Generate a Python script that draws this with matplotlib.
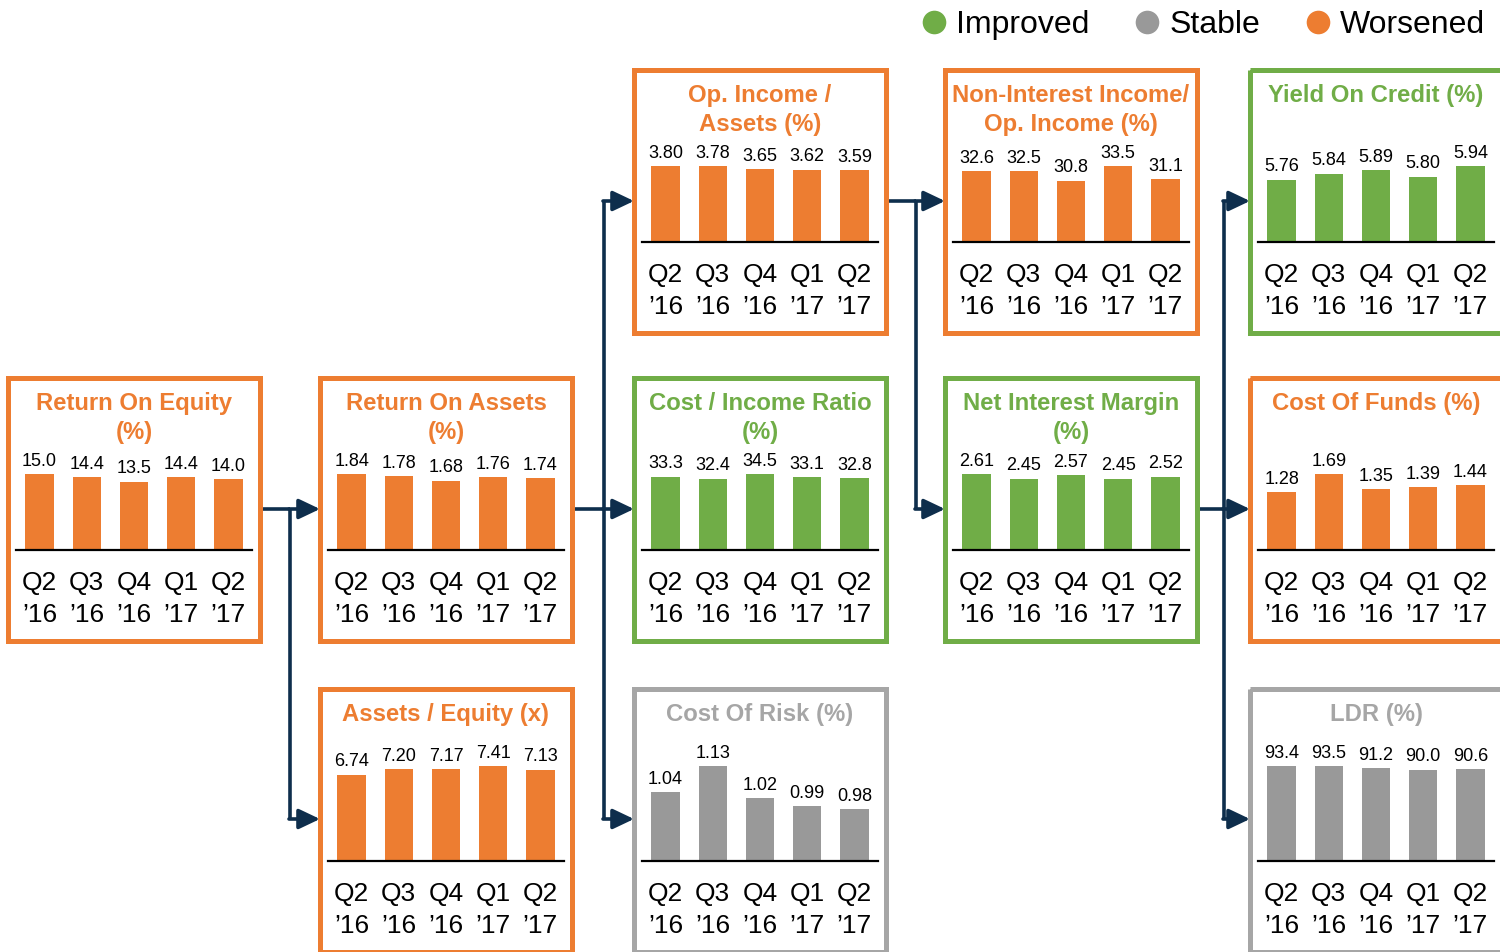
import matplotlib

matplotlib.use("Agg")

import matplotlib.pyplot as plt
from matplotlib.lines import Line2D
from matplotlib.patches import Rectangle

plt.rcParams["font.family"] = ["Liberation Sans", "DejaVu Sans"]

W_PX, H_PX = 1500, 952
DPI = 100

ORANGE = "#ED7D31"
GREEN = "#70AD47"
GREY_BAR = "#999999"
GREY_LINE = "#A6A6A6"
NAVY = "#0E2E4C"

STATUS_COLORS = {
    "Improved": (GREEN, GREEN, GREEN),
    "Stable": (GREY_BAR, GREY_LINE, GREY_LINE),
    "Worsened": (ORANGE, ORANGE, ORANGE),
}

QUARTERS = ["Q2\n’16", "Q3\n’16", "Q4\n’16", "Q1\n’17", "Q2\n’17"]

ROE = [15.0, 14.4, 13.5, 14.4, 14.0]
ROA = [1.84, 1.78, 1.68, 1.76, 1.74]
ASSETS_EQUITY = [6.74, 7.20, 7.17, 7.41, 7.13]
OP_INCOME_ASSETS = [3.80, 3.78, 3.65, 3.62, 3.59]
COST_INCOME = [33.3, 32.4, 34.5, 33.1, 32.8]
COST_OF_RISK = [1.04, 1.13, 1.02, 0.99, 0.98]
NON_INT_INCOME = [32.6, 32.5, 30.8, 33.5, 31.1]
NIM = [2.61, 2.45, 2.57, 2.45, 2.52]
YIELD_CREDIT = [5.76, 5.84, 5.89, 5.80, 5.94]
COST_OF_FUNDS = [1.28, 1.69, 1.35, 1.39, 1.44]
LDR = [93.4, 93.5, 91.2, 90.0, 90.6]

# title, values, status, column, row, axis floor, decimals
PANELS = [
    ("Return On Equity\n(%)", ROE, "Worsened", 0, 1, 0.0, 1),
    ("Return On Assets\n(%)", ROA, "Worsened", 1, 1, 0.0, 2),
    ("Assets / Equity (x)", ASSETS_EQUITY, "Worsened", 1, 2, 0.0, 2),
    ("Op. Income /\nAssets (%)", OP_INCOME_ASSETS, "Worsened", 2, 0, 0.0, 2),
    ("Cost / Income Ratio\n(%)", COST_INCOME, "Improved", 2, 1, 0.0, 1),
    ("Cost Of Risk (%)", COST_OF_RISK, "Stable", 2, 2, 0.8, 2),
    ("Non-Interest Income/\nOp. Income (%)", NON_INT_INCOME, "Worsened", 3, 0, 19.5, 1),
    ("Net Interest Margin\n(%)", NIM, "Improved", 3, 1, 0.0, 2),
    ("Yield On Credit (%)", YIELD_CREDIT, "Improved", 4, 0, 4.93, 2),
    ("Cost Of Funds (%)", COST_OF_FUNDS, "Worsened", 4, 1, 0.0, 2),
    ("LDR (%)", LDR, "Stable", 4, 2, 0.0, 1),
]

COL_LEFT = [8, 320, 634, 945, 1250]
ROW_TOP = [70, 378, 689]
BOX_W = 252
BOX_H = 263
BASELINE_OFFSET = 172
AX_INSET = 8
BAR_SPACE = [76, 76, 95]

# arrow network in pixel coords: trunk lines and arrow shafts
TRUNKS = [((262, 509), (290, 509)), ((290, 509), (290, 819)),
          ((573, 509), (604, 509)), ((604, 201), (604, 819)),
          ((887, 201), (916, 201)), ((916, 201), (916, 509)),
          ((1197, 509), (1224, 509)), ((1224, 201), (1224, 819))]
ARROWS = [((290, 509), 320), ((290, 819), 320),
          ((604, 509), 634), ((604, 201), 634), ((604, 819), 634),
          ((916, 201), 945), ((916, 509), 945),
          ((1224, 509), 1250), ((1224, 201), 1250), ((1224, 819), 1250)]


def px_to_fig(x, y, w, h):
    return [x / W_PX, 1 - (y + h) / H_PX, w / W_PX, h / H_PX]


def draw_panel(fig, canvas, title, values, status, col, row, floor, decimals):
    bar_color, line_color, title_color = STATUS_COLORS[status]
    left, top = COL_LEFT[col], ROW_TOP[row]

    canvas.add_patch(Rectangle((left, top), BOX_W, BOX_H, fill=False,
                               edgecolor=line_color, lw=3.6, zorder=2))
    canvas.text(left + BOX_W / 2, top + 14, title, ha="center", va="top",
                fontsize=17.2, fontweight="bold", color=title_color,
                linespacing=1.33, zorder=3)

    space = BAR_SPACE[row]
    baseline = top + BASELINE_OFFSET
    ax = fig.add_axes(px_to_fig(left + AX_INSET, baseline - space,
                                BOX_W - 2 * AX_INSET, space))
    ax.set_facecolor("none")
    bars = ax.bar(range(len(values)), values, width=0.6, color=bar_color)
    ax.bar_label(bars, labels=[f"{v:.{decimals}f}" for v in values],
                 padding=3, fontsize=13, annotation_clip=False)
    ax.set_xlim(-0.5, len(values) - 0.5)
    ax.set_ylim(floor, max(values))
    for side in ("left", "right", "top"):
        ax.spines[side].set_visible(False)
    ax.spines["bottom"].set_linewidth(1.6)
    ax.set_yticks([])
    ax.set_xticks(range(len(values)), QUARTERS)
    ax.tick_params(axis="x", length=0, labelsize=19, pad=15)
    for label in ax.get_xticklabels():
        label.set_linespacing(1.42)


def main():
    fig = plt.figure(figsize=(W_PX / DPI, H_PX / DPI), dpi=DPI)
    canvas = fig.add_axes([0, 0, 1, 1])
    canvas.set_xlim(0, W_PX)
    canvas.set_ylim(H_PX, 0)
    canvas.axis("off")

    for (x0, y0), (x1, y1) in TRUNKS:
        canvas.plot([x0, x1], [y0, y1], color=NAVY, lw=2.6,
                    solid_capstyle="butt", zorder=1)
    for (x0, y0), x1 in ARROWS:
        canvas.annotate("", xy=(x1, y0), xytext=(x0 - 1, y0),
                        arrowprops=dict(arrowstyle="-|>,head_length=0.8,head_width=0.38",
                                        color=NAVY, lw=2.6, shrinkA=0, shrinkB=0,
                                        mutation_scale=16), zorder=1)

    for panel in PANELS:
        draw_panel(fig, canvas, *panel)

    handles = [Line2D([0], [0], marker="o", ls="none", markersize=17,
                      markerfacecolor=STATUS_COLORS[s][0], markeredgecolor="none",
                      label=s) for s in ("Improved", "Stable", "Worsened")]
    fig.legend(handles=handles, ncol=3, loc="upper right",
               bbox_to_anchor=(1485 / W_PX, 1 - 10 / H_PX), frameon=False,
               fontsize=23, handlelength=0.8, handletextpad=0.3,
               columnspacing=1.4, borderpad=0, borderaxespad=0)

    fig.savefig("out.png", dpi=DPI, facecolor="white")


if __name__ == "__main__":
    main()
